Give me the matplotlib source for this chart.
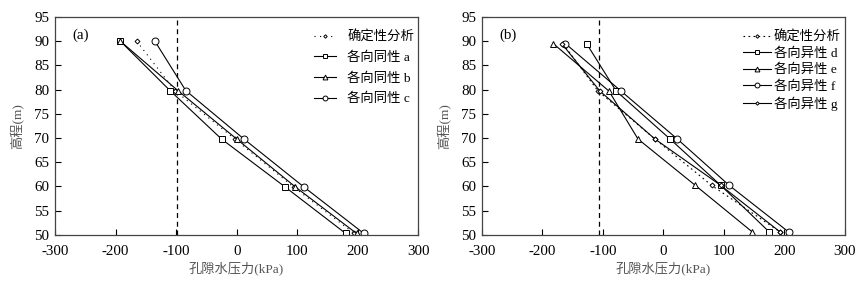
import matplotlib
matplotlib.use("Agg")
import matplotlib.pyplot as plt

plt.rcParams['font.family'] = ['Liberation Serif', 'Noto Sans CJK SC']
plt.rcParams['axes.unicode_minus'] = False

# panel (a): isotropic cases
elev_a = [90, 79.8, 69.8, 59.9, 50.3]
det_a = [-165, -102, -3, 94, 194]
iso_a = [-192, -110, -25, 80, 180]
iso_b = [-192, -97, 0, 97, 198]
iso_c = [-135, -84, 12, 111, 210]
ref_a = -98

# panel (b): anisotropic cases
elev_b = [89.5, 79.7, 69.8, 60.2, 50.6]
det_b = [-166, -108, -14, 80, 193]
ani_d = [-127, -78, 11, 95, 175]
ani_e = [-182, -90, -42, 53, 147]
ani_f = [-162, -70, 23, 109, 207]
ani_g = [-168, -105, -14, 95, 193]
ref_b = -107

xticks = [-300, -200, -100, 0, 100, 200, 300]
yticks = [50, 55, 60, 65, 70, 75, 80, 85, 90, 95]

fig = plt.figure(figsize=(8.59, 2.83), dpi=100)
ax1 = fig.add_axes([0.064, 0.170, 0.423, 0.770])
ax2 = fig.add_axes([0.561, 0.170, 0.4226, 0.770])

mk = dict(color='black', lw=0.8, mfc='white', mec='black', mew=0.7)


def style(ax, tag):
    ax.set_xlim(-300, 300)
    ax.set_ylim(50, 95)
    ax.set_xticks(xticks)
    ax.set_yticks(yticks)
    ax.tick_params(direction='in', length=4, width=0.8, labelsize=10.8,
                   top=False, right=False)
    ax.tick_params(axis='x', pad=7)
    ax.tick_params(axis='y', pad=4)
    for s in ax.spines.values():
        s.set_color('#444444')
        s.set_linewidth(0.9)
    ax.set_xlabel('孔隙水压力(kPa)', fontsize=9.5, color='#555555', labelpad=3)
    ax.set_ylabel('高程(m)', fontsize=9.5, color='#555555', labelpad=7)
    ax.text(0.047, 0.915, tag, transform=ax.transAxes, fontsize=10.8,
            va='center', ha='left')


ax1.axvline(ref_a, color='black', ls=(0, (4, 3)), lw=0.9)
ax1.plot(det_a, elev_a, ls=(0, (1, 4)), marker='D', ms=2.5, label='确定性分析', **mk)
ax1.plot(iso_a, elev_a, marker='s', ms=5, label='各向同性 a', **mk)
ax1.plot(iso_b, elev_a, marker='^', ms=5, label='各向同性 b', **mk)
ax1.plot(iso_c, elev_a, marker='o', ms=5, label='各向同性 c', **mk)
style(ax1, '(a)')
ax1.legend(loc='upper right', bbox_to_anchor=(1.01, 0.975), frameon=False,
           fontsize=9.6, handlelength=1.7, handletextpad=0.8,
           labelspacing=0.62, markerscale=0.7, borderaxespad=0.2)

ax2.axvline(ref_b, color='black', ls=(0, (4, 3)), lw=0.9)
ax2.plot(det_b, elev_b, ls=(0, (1.5, 3)), marker='D', ms=2.5, label='确定性分析', **mk)
ax2.plot(ani_d, elev_b, marker='s', ms=5, label='各向异性 d', **mk)
ax2.plot(ani_e, elev_b, marker='^', ms=5, label='各向异性 e', **mk)
ax2.plot(ani_f, elev_b, marker='o', ms=5, label='各向异性 f', **mk)
ax2.plot(ani_g, elev_b, marker='D', ms=2.5, label='各向异性 g', **mk)
style(ax2, '(b)')
ax2.legend(loc='upper right', bbox_to_anchor=(1.01, 0.975), frameon=False,
           fontsize=9.6, handlelength=2.1, handletextpad=0.2,
           labelspacing=0.3, markerscale=0.7, borderaxespad=0.2)

fig.savefig('out.png', dpi=100)
